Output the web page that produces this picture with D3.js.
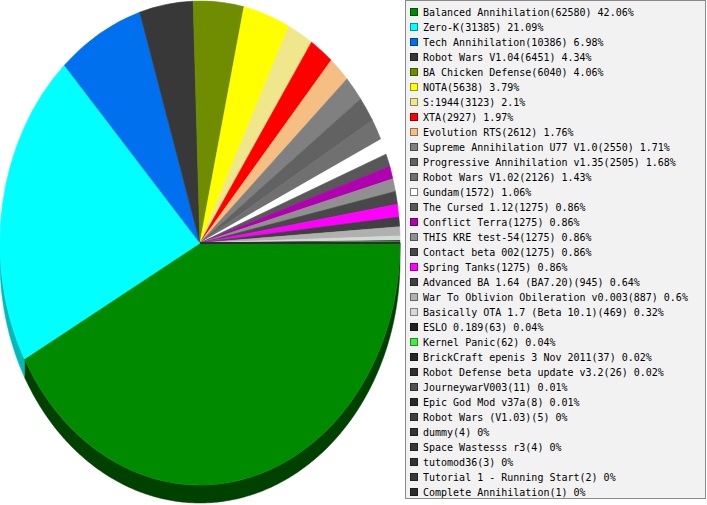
<!DOCTYPE html>
<html><head><meta charset="utf-8">
<script src="https://cdn.jsdelivr.net/npm/d3@7"></script>
<style>html,body{margin:0;padding:0;background:#fff;overflow:hidden}</style>
</head><body>
<svg id="c" width="707" height="505"></svg>
<script>
const categories = ["Balanced Annihilation","Zero-K","Tech Annihilation","Robot Wars V1.04","BA Chicken Defense","NOTA","S:1944","XTA","Evolution RTS","Supreme Annihilation U77 V1.0","Progressive Annihilation v1.35","Robot Wars V1.02","Gundam","The Cursed 1.12","Conflict Terra","THIS KRE test-54","Contact beta 002","Spring Tanks","Advanced BA 1.64 (BA7.20)","War To Oblivion Obileration v0.003","Basically OTA 1.7 (Beta 10.1)","ESLO 0.189","Kernel Panic","BrickCraft epenis 3 Nov 2011","Robot Defense beta update v3.2","JourneywarV003","Epic God Mod v37a","Robot Wars (V1.03)","dummy","Space Wastesss r3","tutomod36","Tutorial 1 - Running Start","Complete Annihilation"];
const values = [62580,31385,10386,6451,6040,5638,3123,2927,2612,2550,2505,2126,1572,1275,1275,1275,1275,1275,945,887,469,63,62,37,26,11,8,5,4,4,3,2,1];
const colors = ["#008a00","#00ffff","#0070ee","#383838","#708c00","#ffff00","#f0e68c","#ff0000","#f5be82","#808080","#626262","#707070","#ffffff","#585858","#b000b0","#909090","#484848","#ff00ff","#404040","#b0b0b0","#d8d8d8","#222222","#40ee40","#282828","#303030","#505050","#2a2a2a","#404040","#333333","#383838","#333333","#383838","#2c2c2c"];

(function(){
const svg = d3.select("#c");
const cx = 200, cy = 243, rx = 200, ry = 242, depth = 18;
const total = d3.sum(values);
const data = categories.map((c,i)=>({name:c, value:values[i], color:colors[i]}));

const pie = d3.pie().value(d=>d.value).sort(null)
  .startAngle(Math.PI/2).endAngle(Math.PI/2 + 2*Math.PI);
const arcs = pie(data);

const sideColor = c => d3.color(c).darker(c === "#008a00" ? 2.1 : 0.9).formatHex();

const pt = (a, dy) => [cx + rx*Math.sin(a), cy - ry*Math.cos(a) + dy];
const line = d3.line();
const sides = svg.append("g");
arcs.forEach(a => {
  const s = Math.max(a.startAngle, Math.PI/2), e = Math.min(a.endAngle, 3*Math.PI/2);
  if (e <= s) return;
  const n = Math.max(2, Math.ceil((e - s) / 0.01));
  const angs = d3.range(n + 1).map(k => s + (e - s)*k/n);
  const pts = angs.map(t => pt(t, 0)).concat(angs.slice().reverse().map(t => pt(t, depth)));
  sides.append("path").attr("d", line(pts) + "Z")
    .attr("fill", sideColor(a.data.color))
    .attr("stroke", sideColor(a.data.color)).attr("stroke-width", 0.5);
});

const arc = d3.arc().innerRadius(0).outerRadius(1);
const faces = svg.append("g").attr("transform", `translate(${cx},${cy}) scale(${rx},${ry})`);
faces.selectAll("path").data(arcs).join("path")
  .attr("d", arc).attr("fill", d=>d.data.color)
  .attr("stroke", d=>d.data.color).attr("stroke-width", 0.003);

const lg = svg.append("g");
lg.append("rect").attr("x",405.5).attr("y",0.5).attr("width",300).attr("height",498)
  .attr("fill","#f2f2f2").attr("stroke","#8a8a8a");
const fmtPct = v => (Math.round(v/total*10000)/100).toString() + "%";
const rows = lg.selectAll("g.row").data(data).join("g").attr("class","row")
  .attr("transform",(d,i)=>`translate(0,${i*15})`);
rows.append("rect").attr("x",410.5).attr("y",8.5).attr("width",7).attr("height",7)
  .attr("fill",d=>d.color).attr("stroke",d=>d.color==="#ffffff"?"#777":d3.color(d.color).darker(1.5).formatHex());
rows.append("text").attr("x",423).attr("y",16)
  .attr("font-family","'DejaVu Sans Mono', monospace").attr("font-size",10).attr("fill","#000")
  .text(d=>`${d.name}(${d.value}) ${fmtPct(d.value)}`);
})();
</script>
</body></html>
